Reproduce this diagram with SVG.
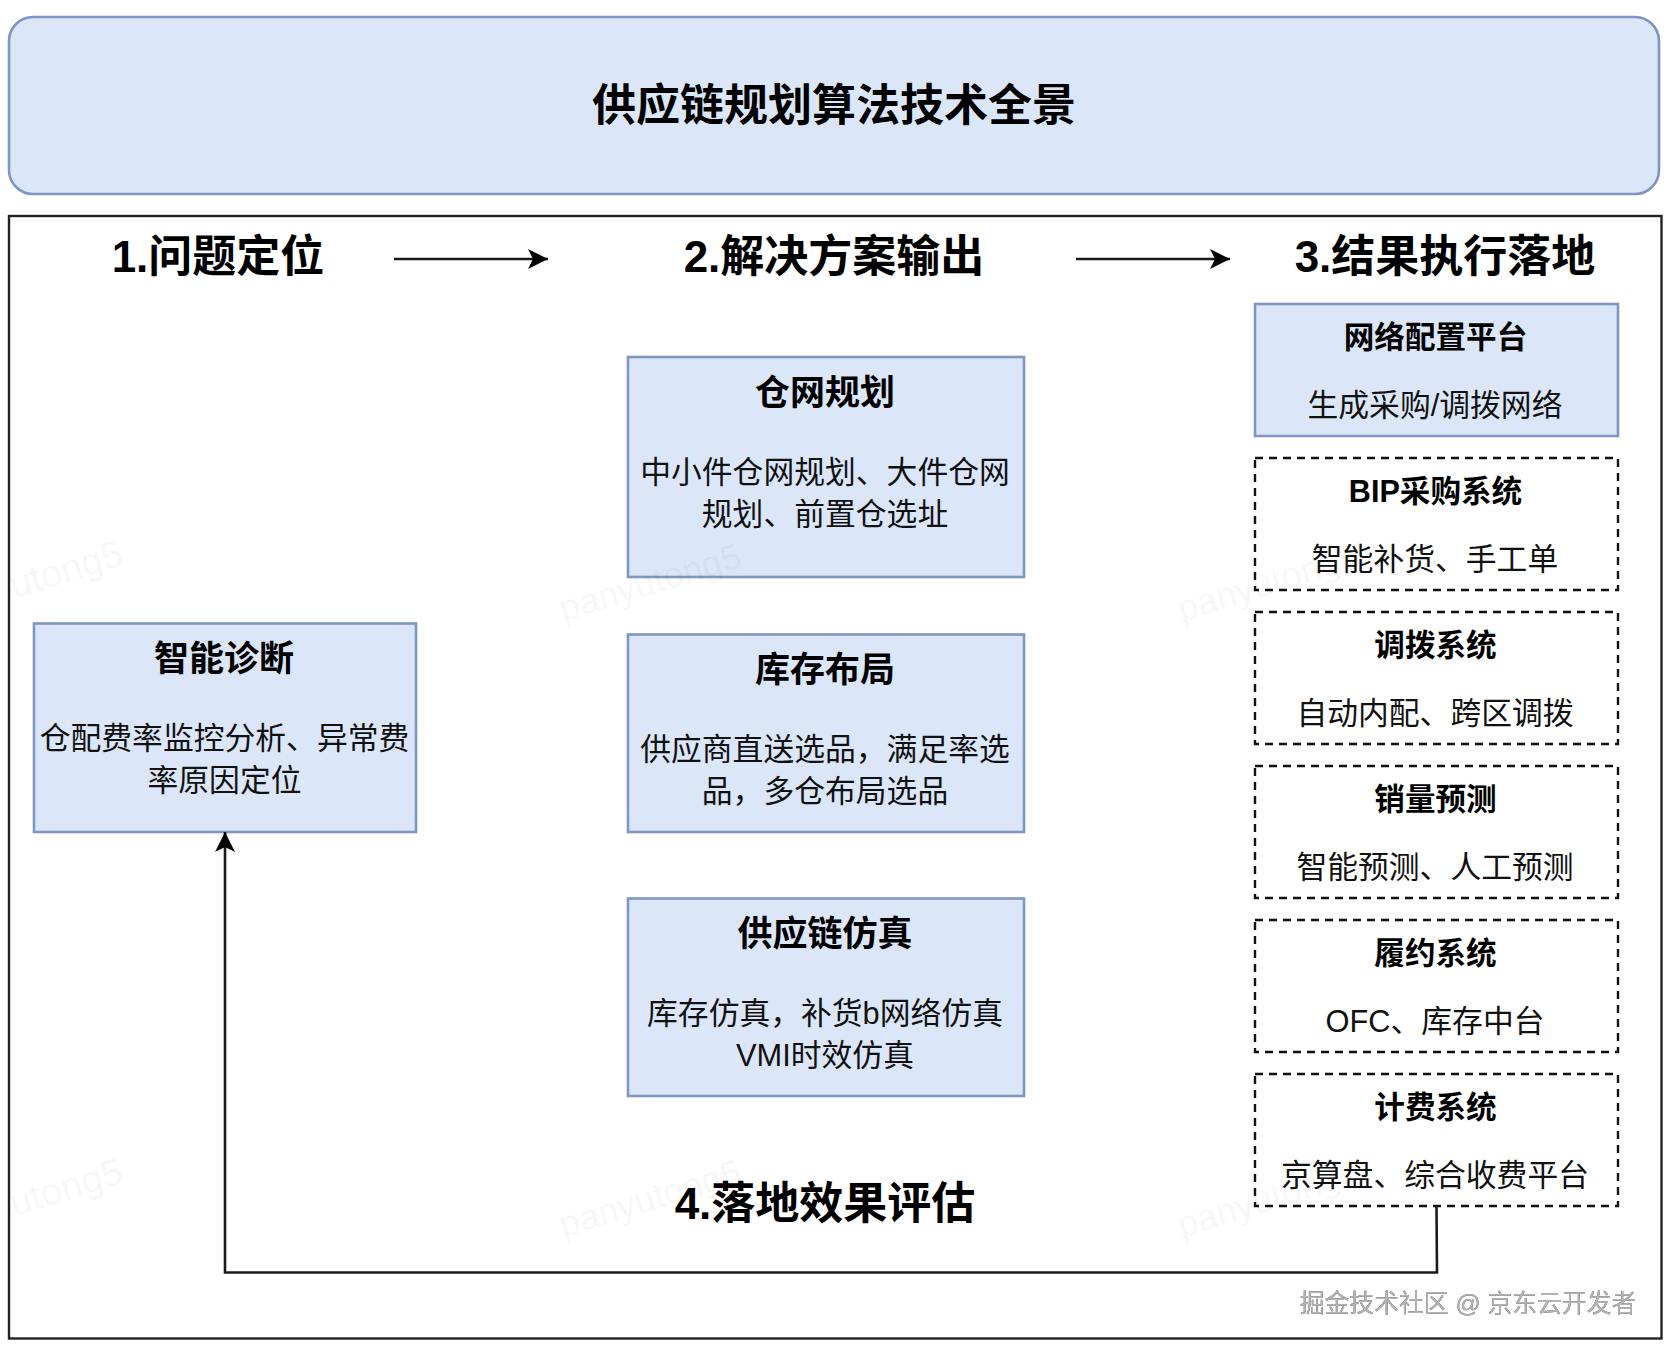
<svg xmlns="http://www.w3.org/2000/svg" width="1670" height="1350" viewBox="0 0 1670 1350">
<style>
text{font-family:"Liberation Sans","Noto Sans CJK SC",sans-serif;text-anchor:middle;dominant-baseline:central;fill:#000}
.h{font-size:44px;font-weight:700}
.t{font-size:35px;font-weight:700}
.rt{font-size:30.6px;font-weight:700}
.b{font-size:30.8px;font-weight:400;fill:#111}
.box{fill:#dbe7f9;stroke:#7f95c2;stroke-width:2.6}
.dash{fill:none;stroke:#111;stroke-width:2.4;stroke-dasharray:8 6}
.wm{font-size:36px;fill:#000;fill-opacity:.055;font-weight:400}
.conn{fill:none;stroke:#1a1a1a;stroke-width:2.6}
.credit{font-size:24.8px;fill:#b4b4b4;filter:drop-shadow(.8px .8px .4px #333)}
</style>
<defs>
<marker id="ah" markerUnits="userSpaceOnUse" markerWidth="22" markerHeight="22" refX="20" refY="11" orient="auto">
<path d="M0 1 L20 11 L0 21 L5 11 Z" fill="#000"/>
</marker>
</defs>
<rect width="1670" height="1350" fill="#fff"/>
<g id="frame"><rect x="9" y="216" width="1652.5" height="1122.5" fill="none" stroke="#222" stroke-width="2.4"/></g>
<g id="title"><rect class="box" x="9" y="17" width="1650" height="177" rx="24" ry="24"/><text class="h" x="834" y="105">供应链规划算法技术全景</text></g>
<g id="h1"><text class="h" x="218" y="256">1.问题定位</text></g>
<g id="h2"><text class="h" x="834" y="256">2.解决方案输出</text></g>
<g id="h3"><text class="h" x="1445" y="256">3.结果执行落地</text></g>
<g id="h4"><text class="h" x="825" y="1203">4.落地效果评估</text></g>
<g id="diagnose"><rect class="box" x="34" y="623.5" width="382" height="208.5"/><text class="t" x="224" y="658.5">智能诊断</text><text class="b" x="224.5" y="738">仓配费率监控分析、异常费</text><text class="b" x="224.5" y="780">率原因定位</text></g>
<g id="network"><rect class="box" x="628" y="357" width="396" height="220"/><text class="t" x="825" y="392">仓网规划</text><text class="b" x="825" y="472">中小件仓网规划、大件仓网</text><text class="b" x="825" y="514">规划、前置仓选址</text></g>
<g id="inventory"><rect class="box" x="628" y="634.5" width="396" height="197.5"/><text class="t" x="825" y="669">库存布局</text><text class="b" x="825" y="749">供应商直送选品，满足率选</text><text class="b" x="825" y="791">品，多仓布局选品</text></g>
<g id="simulation"><rect class="box" x="628" y="898.5" width="396" height="197.5"/><text class="t" x="825" y="933.5">供应链仿真</text><text class="b" x="825" y="1013">库存仿真，补货b网络仿真</text><text class="b" x="825" y="1055">VMI时效仿真</text></g>
<g id="platform"><rect class="box" x="1255" y="304" width="363" height="132"/><text class="rt" x="1435.5" y="337">网络配置平台</text><text class="b" x="1435" y="405">生成采购/调拨网络</text></g>
<g id="bip"><rect class="dash" x="1255" y="458" width="363" height="132"/><text class="rt" x="1435.5" y="491">BIP采购系统</text><text class="b" x="1435" y="559">智能补货、手工单</text></g>
<g id="transfer"><rect class="dash" x="1255" y="612" width="363" height="132"/><text class="rt" x="1435.5" y="645">调拨系统</text><text class="b" x="1435" y="713">自动内配、跨区调拨</text></g>
<g id="forecast"><rect class="dash" x="1255" y="766" width="363" height="132"/><text class="rt" x="1435.5" y="799">销量预测</text><text class="b" x="1435" y="867">智能预测、人工预测</text></g>
<g id="fulfil"><rect class="dash" x="1255" y="920" width="363" height="132"/><text class="rt" x="1435.5" y="953">履约系统</text><text class="b" x="1435" y="1021">OFC、库存中台</text></g>
<g id="billing"><rect class="dash" x="1255" y="1074" width="363" height="132"/><text class="rt" x="1435.5" y="1107">计费系统</text><text class="b" x="1435" y="1175">京算盘、综合收费平台</text></g>
<g id="connectors">
<path class="conn" d="M394 259H548" marker-end="url(#ah)"/>
<path class="conn" d="M1076 259H1230" marker-end="url(#ah)"/>
<path class="conn" d="M1436.5 1206L1437 1272.5H225V832" marker-end="url(#ah)"/>
</g>
<g id="watermarks">
<text class="wm" x="66" y="569" font-size="38" style="font-size:38px" transform="rotate(-17 66 569)">utong5</text>
<text class="wm" x="650" y="582" transform="rotate(-17 650 582)">panyutong5</text>
<text class="wm" x="1268" y="582" transform="rotate(-17 1268 582)">panyutong5</text>
<text class="wm" x="66" y="1187" style="font-size:38px" transform="rotate(-17 66 1187)">utong5</text>
<text class="wm" x="650" y="1198" transform="rotate(-17 650 1198)">panyutong5</text>
<text class="wm" x="1268" y="1198" transform="rotate(-17 1268 1198)">panyutong5</text>
</g>
<g id="credit"><text class="credit" x="1468" y="1303">掘金技术社区 @ 京东云开发者</text></g>
</svg>
